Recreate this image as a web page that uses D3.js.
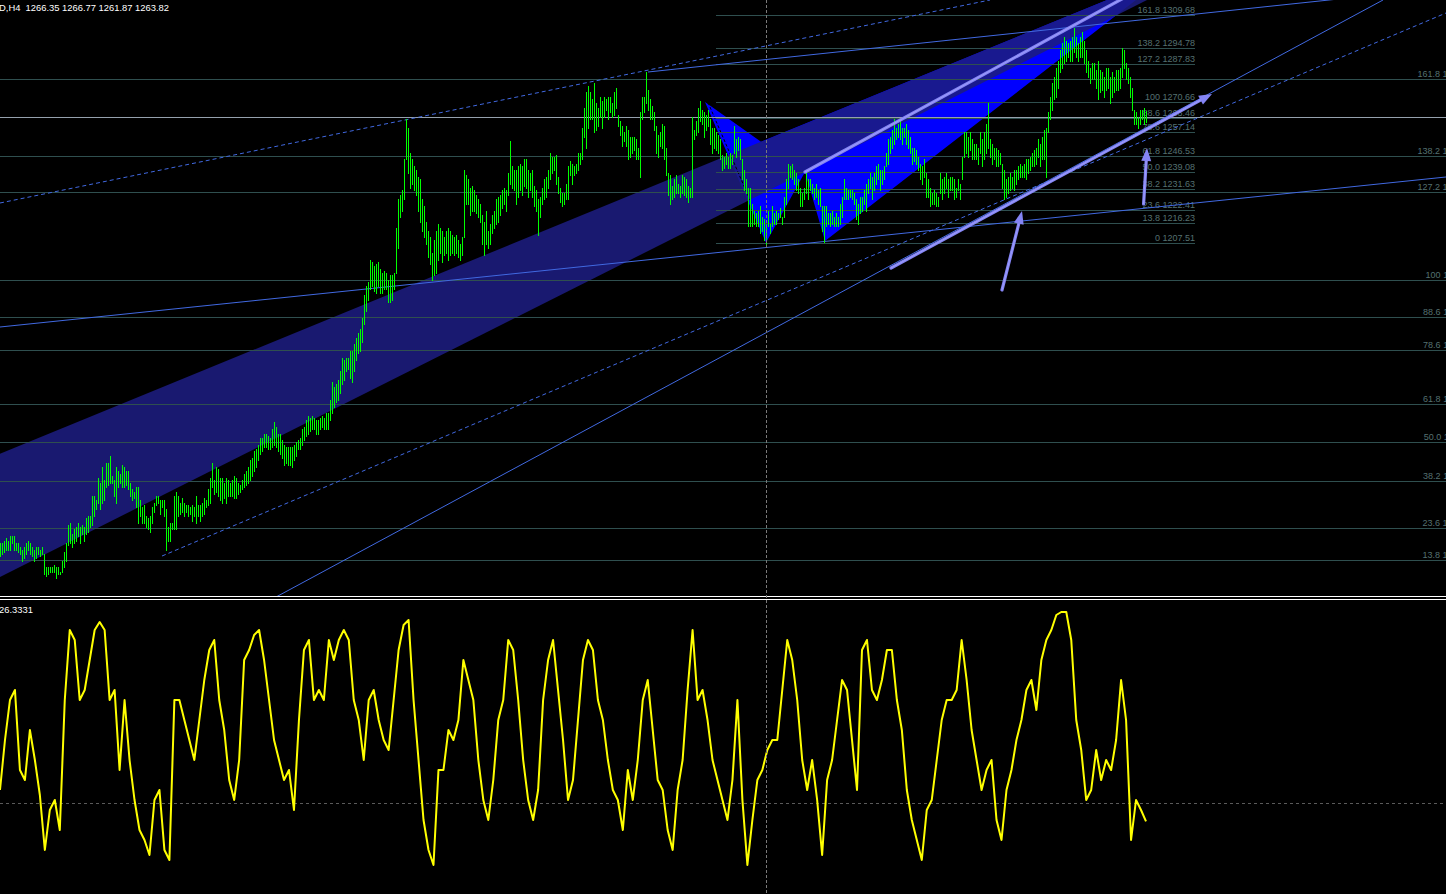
<!DOCTYPE html>
<html><head><meta charset="utf-8">
<script src="https://cdn.jsdelivr.net/npm/d3@7"></script>
<style>
html,body{margin:0;padding:0;background:#000;overflow:hidden}
svg{display:block}
text{font-family:"Liberation Sans",Arial,sans-serif;font-size:9px}
</style></head><body>
<svg id="c" width="1446" height="894"></svg>
<script>
// ---------------- DATA ----------------
const symbolLabel = "D,H4";
const lastBar = {open:"1266.35", high:"1266.77", low:"1261.87", close:"1263.82"};
const bidPrice = 1263.82;

const barHigh = [
1073,1073,1074,1075,1074,1076,1076,1076,1073,1073,
1071,1070,1071,1073,1074,1073,1071,1070,1071,1071,
1070,1071,1068,1062,1062,1062,1062,1063,1062,1062,
1060,1065,1069,1073,1081,1082,1077,1079,1080,1082,
1080,1081,1080,1084,1085,1085,1094,1094,1092,1102,
1100,1107,1101,1109,1109,1112,1103,1101,1107,1105,
1104,1108,1107,1105,1105,1100,1097,1096,1098,1098,
1092,1089,1090,1085,1084,1085,1089,1091,1094,1094,
1092,1092,1092,1088,1080,1082,1082,1094,1096,1094,
1091,1093,1091,1090,1090,1089,1090,1089,1094,1090,
1090,1091,1093,1092,1097,1102,1109,1101,1107,
1106,1102,1102,1100,1102,1101,1100,1101,1103,1102,
1100,1099,1101,1104,1105,1107,1110,1111,1114,1115,
1117,1120,1120,1122,1122,1121,1120,1124,1127,1125,
1122,1122,1119,1117,1116,1116,1116,1116,1117,1118,
1119,1120,1124,1125,1128,1130,1129,1130,1129,1128,
1128,1129,1130,1129,1131,1131,1137,1145,1143,1144,
1146,1150,1156,1155,1156,1156,1159,1159,1162,1165,
1167,1169,1174,1184,1188,1190,1200,1199,1197,1198,
1199,1196,1194,1195,1194,1191,1193,1193,1194,1214,
1227,1229,1231,1245,1263,1259,1248,1245,1242,1240,
1237,1236,1227,1224,1217,1213,1210,1203,1209,1213,
1216,1214,1213,1210,1213,1214,1213,1211,1210,1211,
1209,1207,1210,1240,1238,1236,1232,1233,1231,1229,
1227,1225,1220,1217,1222,1213,1216,1220,1222,1227,
1228,1229,1231,1232,1231,1239,1253,1242,1240,1240,
1242,1243,1242,1245,1245,1240,1239,1240,1233,1231,
1227,1228,1232,1236,1237,1240,
1248,1246,1246,1247,1237,1232,1230,1230,1234,1242,
1244,1243,1242,1243,1248,1248,1259,1268,1275,1278,
1275,1272,1279,1270,1268,1273,1271,1273,1272,1273,
1273,1270,1275,1277,1265,1262,1260,1257,1260,1258,
1255,1255,1255,1254,1250,1266,1273,1273,1284,1276,
1272,1269,1266,1260,1256,1257,1261,1260,1250,1239,
1238,1233,1236,1238,1234,1233,1238,1237,1236,1233,
1232,1264,1258,1262,1268,1271,1267,1266,1265,1267,
1263,1259,1259,1257,1256,1254,1247,1246,1248,1246,
1248,1247,1260,1254,1255,1254,1245,1240,1236,1232,
1232,1225,1222,1221,1222,1224,1219,1218,1216,1222,
1216,1224,1221,1222,1221,1223,1219,1228,1236,1243,
1242,1243,1240,1239,1236,1232,1230,1232,1239,1236,
1236,1234,1232,1234,1231,1232,1224,1224,1224,1221,
1221,1222,1219,1221,1219,1225,1228,1236,1232,1231,
1231,1231,1230,1227,1225,1228,1228,1231,1234,1236,
1239,1237,1239,1242,1243,1240,1240,1242,1248,1254,
1255,1258,1263,1259,1261,1263,1259,1259,1261,1258,
1255,1250,1250,1249,1246,1243,1242,1245,1239,1236,
1232,1230,1231,1230,1228,
1239,1236,1237,1239,1236,1237,1237,1236,1232,1236,
1234,1246,1257,1257,1255,1257,1254,1252,1252,1250,
1257,1254,1257,1261,1270,1254,1252,1250,1250,1249,
1248,1243,1240,1236,1237,1239,1237,1240,1240,1242,
1243,1242,1243,1245,1245,1246,1248,1249,1250,1254,
1252,1255,1258,1259,1266,1273,1279,1282,1286,1289,
1294,1297,1300,1298,1297,1298,1300,1304,1300,1297,
1300,1302,1298,1294,1289,1286,1288,1288,1285,1289,
1285,1284,1282,1286,1286,1282,1284,1282,1285,1285,
1286,1295,1294,1288,1286,1282,1277,1267,1266,1264,
1267,1267,1268,1266.77
];
const barLow = [
1067,1068,1069,1070,1070,1070,1073,1070,1070,1069,
1068,1065,1066,1068,1070,1068,1067,1065,1066,1068,
1067,1068,1059,1058,1059,1060,1060,1060,1057,1059,
1059,1060,1062,1065,1072,1073,1071,1073,1074,1076,
1073,1077,1074,1077,1078,1080,1081,1085,1088,1091,
1088,1091,1092,1098,1099,1100,1100,1094,1091,1098,
1100,1098,1098,1099,1097,1094,1092,1093,1089,1082,
1085,1082,1082,1080,1079,1078,1082,1087,1090,1091,
1086,1089,1085,1070,1074,1074,1079,1079,1079,1085,
1086,1087,1085,1087,1085,1086,1083,1085,1082,1085,
1083,1085,1086,1089,1090,1091,1098,1095,1096,
1094,1092,1091,1093,1091,1094,1094,1094,1093,1093,
1095,1096,1097,1098,1099,1100,1101,1103,1105,1107,
1110,1113,1114,1116,1116,1115,1115,1116,1117,1116,
1114,1113,1111,1108,1109,1108,1108,1107,1110,1112,
1115,1115,1117,1119,1121,1122,1123,1124,1124,1122,
1122,1124,1125,1124,1124,1124,1128,1131,1134,1136,
1137,1140,1144,1146,1150,1151,1147,1145,1150,1155,
1158,1159,1163,1171,1177,1182,1187,1188,1186,1185,
1188,1185,1185,1187,1187,1181,1181,1182,1187,1194,
1205,1219,1222,1227,1245,1239,1232,1234,1231,1229,
1222,1217,1213,1210,1207,1201,1198,1191,1193,1194,
1200,1203,1199,1202,1203,1200,1202,1203,1202,1203,
1201,1200,1202,1210,1225,1225,1220,1222,1222,1221,
1219,1217,1207,1202,1207,1205,1207,1212,1214,1216,
1217,1220,1223,1225,1222,1229,1234,1232,1231,1225,
1228,1231,1229,1233,1232,1228,1231,1228,1224,1222,
1211,1219,1225,1227,1228,1232,
1236,1239,1240,1234,1230,1226,1224,1225,1227,1227,
1238,1234,1238,1239,1240,1243,1245,1255,1250,1259,
1263,1263,1257,1258,1260,1264,1259,1264,1267,1263,
1266,1264,1265,1268,1260,1256,1251,1253,1251,1245,
1246,1248,1249,1245,1245,1237,1263,1266,1270,1267,
1263,1263,1258,1248,1246,1251,1250,1245,1238,1229,
1225,1227,1228,1230,1230,1228,1230,1229,1228,1226,
1228,1228,1254,1256,1257,1262,1261,1255,1258,1260,
1252,1248,1250,1249,1248,1245,1240,1241,1243,1241,
1241,1243,1248,1246,1249,1245,1236,1231,1230,1215,
1215,1215,1216,1215,1215,1212,1213,1209,1207,1215,
1212,1215,1216,1216,1218,1219,1216,1219,1225,1232,
1237,1236,1234,1231,1230,1224,1224,1227,1230,1227,
1231,1230,1227,1228,1225,1224,1213,1208,1215,1216,
1215,1216,1215,1215,1215,1216,1219,1227,1227,1227,
1228,1227,1225,1218,1216,1221,1222,1225,1222,1230,
1232,1227,1231,1234,1236,1231,1234,1236,1242,1243,
1248,1250,1252,1254,1255,1254,1252,1255,1252,1250,
1248,1243,1244,1243,1240,1236,1234,1237,1228,1228,
1224,1225,1225,1224,1224,
1230,1227,1230,1232,1228,1231,1231,1227,1228,1231,
1227,1236,1246,1248,1246,1249,1245,1245,1245,1243,
1248,1242,1245,1248,1250,1246,1243,1245,1242,1242,
1243,1232,1227,1228,1230,1231,1232,1231,1234,1236,
1237,1237,1237,1236,1239,1240,1242,1242,1243,1246,
1242,1245,1245,1237,1257,1263,1267,1272,1273,1277,
1284,1286,1288,1289,1291,1289,1289,1293,1291,1289,
1291,1291,1288,1284,1282,1279,1281,1281,1277,1272,
1275,1276,1273,1276,1277,1270,1273,1275,1276,1276,
1277,1282,1286,1281,1279,1273,1267,1261,1261,1259,
1261,1263,1261,1261.87
];

// indicator (sub window), sampled along the same time span
const oscValues = [
32.6,42.6,50.6,52.6,36.6,34.6,44.6,38.6,31.6,20.6,28.6,30.6,24.6,50.6,64.6,62.6,50.6,52.6,58.6,64.6,
66.2,64.6,50.6,52.6,36.6,50.6,38.6,30.6,24.6,22.6,19.6,30.6,32.6,20.6,18.6,50.6,50.6,46.6,42.6,38.6,
46.6,54.6,60.6,62.6,50.6,44.6,34.6,30.6,38.6,58.6,60.6,63.6,64.6,58.6,50.6,42.6,38.6,34.6,36.6,28.6,
46.6,60.6,62.6,50.6,52.6,50.6,62.6,58.6,62.6,64.6,62.6,50.6,46.6,38.6,50.6,52.6,46.6,42.6,40.6,50.6,
60.6,65.6,66.6,50.6,38.6,26.6,20.6,17.6,36.6,36.6,44.6,42.6,46.6,58.6,54.6,50.6,38.6,30.6,26.6,34.6,
46.6,50.6,62.6,60.6,50.6,38.6,30.6,26.6,32.6,50.6,58.6,62.6,52.6,42.6,30.6,34.6,46.6,58.6,62.6,60.6,
50.6,46.6,38.6,32.6,30.6,24.6,36.6,30.6,38.6,50.6,54.6,44.6,34.6,32.6,24.6,20.6,32.6,38.6,52.6,64.6,
50.6,52.6,46.6,38.6,34.6,30.6,26.6,34.6,50.6,30.6,17.6,26.6,34.6,36.6,40.6,42.6,42.6,52.6,62.6,58.6,
50.6,38.6,32.6,38.6,30.6,19.6,34.6,38.6,46.6,54.6,52.6,42.6,32.6,60.6,62.6,52.6,50.6,54.6,60.6,60.6,
50.6,44.6,32.6,26.6,22.6,18.6,28.6,30.6,38.6,46.6,50.6,50.6,52.6,62.6,54.6,44.6,38.6,32.6,36.6,38.6,
26.6,22.6,32.6,36.6,42.6,46.6,52.6,54.6,48.6,58.6,62.6,64.6,67.6,68.2,68.2,62.6,46.6,40.6,30.6,32.6,
40.6,34.6,38.6,36.6,42.6,54.6,46.6,22.6,30.6,28.6,26.3331
];
const oscLevel = 30;
const oscLabel = "26.3331";

// Fibonacci objects
const fibLevelLabels = ["0","13.8","23.6","38.2","50.0","61.8","78.6","88.6","100","127.2","138.2","161.8"];
const fib1Prices = [1207.51,1216.23,1222.41,1231.63,1239.08,1246.53,1257.14,1263.46,1270.66,1287.83,1294.78,1309.68];
const fib2Prices = [1045.18,1065.28,1079.56,1100.83,1118.02,1135.20,1159.68,1174.24,1190.85,1230.47,1246.50,1280.87];
const fib1Span = [358, 597.5];
const fib2Span = [-0.5, 737.5];

// drawing objects in (bar index, price)
const navyBand = [[-0.5,1112.73],[553.5,1316.41],[573.5,1316.41],[-0.5,1057.44]];
const blueWedge = [[352.5,1270.66],[383,1207.51],[402.5,1239.28],[412.5,1208.34],[568,1316.41],[553.5,1316.41],[380.5,1252.9]];
const thinLines = [
  {a:[0,1225.38], b:[495,1316.41], dash:true},
  {a:[0,1169.77], b:[723,1237.04], dash:false},
  {a:[324,1284.12], b:[723.5,1322.0], dash:false},
  {a:[81,1067.08], b:[723,1310.58], dash:true},
  {a:[138,1048.70], b:[691.5,1316.41], dash:false}
];
const thickLines = [
  {a:[402.5,1239.28], b:[564.5,1318.6], arrow:false},
  {a:[445.5,1196.23], b:[606,1274.26], arrow:true},
  {a:[501,1186.37], b:[511,1221.79], arrow:true},
  {a:[571.8,1224.93], b:[573.5,1250.04], arrow:true}
];
const wedgeDash = {a:[354,1270.48], b:[375,1226.72]};
const cursorIndex = 383;

// ---------------- DRAW ----------------
const W = 1446, H = 894;
const svg = d3.select("#c");
svg.append("rect").attr("width",W).attr("height",H).attr("fill","#000");
const defs = svg.append("defs");
defs.append("clipPath").attr("id","clipMain").append("rect").attr("x",0).attr("y",0).attr("width",W).attr("height",596);
defs.append("clipPath").attr("id","clipSub").append("rect").attr("x",0).attr("y",601).attr("width",W).attr("height",H-601);

const N = barHigh.length;
const x = d3.scaleLinear().domain([0, N-1]).range([0, 1146]);
const y = d3.scaleLinear().domain([1048.70, 1316.41]).range([597, 0]);
const yOsc = d3.scaleLinear().domain([0, 70]).range([953, 603]);
const xOsc = d3.scaleLinear().domain([0, oscValues.length-1]).range([0, 1146]);

const P = d => [x(d[0]), y(d[1])];
const crisp = v => Math.round(v) + 0.5;

const gMain = svg.append("g").attr("clip-path","url(#clipMain)");

const fills = gMain.append("g").style("isolation","isolate");
fills.append("path").attr("d", "M" + navyBand.map(P).join("L") + "Z").attr("fill","#191970");
fills.append("path").attr("d", "M" + blueWedge.map(P).join("L") + "Z").attr("fill","#0000ff").style("mix-blend-mode","difference");
gMain.append("line")
  .attr("x1",P(wedgeDash.a)[0]).attr("y1",P(wedgeDash.a)[1])
  .attr("x2",P(wedgeDash.b)[0]).attr("y2",P(wedgeDash.b)[1])
  .attr("stroke","#000").attr("stroke-dasharray","3,2");

const fibColor = "#2f4f4f", fibText = "#557070";
function drawFib(prices, lineSpan, labelIdx){
  const g = gMain.append("g");
  prices.forEach((p,k)=>{
    const yy = crisp(y(p));
    g.append("line").attr("x1",x(lineSpan[0])).attr("x2",x(lineSpan[1])).attr("y1",yy).attr("y2",yy)
      .attr("stroke",fibColor).attr("stroke-width",1).attr("shape-rendering","crispEdges");
    g.append("text").attr("x",x(labelIdx)).attr("y",yy-2.5).attr("text-anchor","end")
      .attr("fill",fibText).text(fibLevelLabels[k] + " " + p.toFixed(2));
  });
}
drawFib(fib2Prices, [-0.5, 724.5], fib2Span[1]);
drawFib(fib1Prices, fib1Span, fib1Span[1]);

gMain.append("line").attr("x1",0).attr("x2",W).attr("y1",crisp(y(bidPrice))).attr("y2",crisp(y(bidPrice)))
  .attr("stroke","#95a1ad").attr("shape-rendering","crispEdges");

thinLines.forEach(l=>{
  const a=P(l.a), b=P(l.b);
  gMain.append("line").attr("x1",a[0]).attr("y1",a[1]).attr("x2",b[0]).attr("y2",b[1])
    .attr("stroke","#4169e1").attr("stroke-width",1)
    .attr("stroke-dasharray", l.dash ? "4,3" : null);
});

// price bars (high-low sticks)
gMain.append("g").selectAll("line").data(d3.range(N)).join("line")
  .attr("x1", i => Math.round(x(i)) + 0.5)
  .attr("x2", i => Math.round(x(i)) + 0.5)
  .attr("y1", i => Math.round(y(barHigh[i])))
  .attr("y2", i => Math.max(Math.round(y(barHigh[i])) + 1, Math.round(y(barLow[i])) + 1))
  .attr("stroke", "#00ff00")
  .attr("stroke-width", 1)
  .attr("shape-rendering","crispEdges");

const lav = "#8484f4";
thickLines.forEach(l=>{
  const a=P(l.a), b=P(l.b);
  const dx=b[0]-a[0], dy=b[1]-a[1], len=Math.hypot(dx,dy), ux=dx/len, uy=dy/len;
  const headL = 13, headW = 5;
  const end = l.arrow ? [b[0]-ux*headL*0.8, b[1]-uy*headL*0.8] : b;
  gMain.append("line").attr("x1",a[0]).attr("y1",a[1]).attr("x2",end[0]).attr("y2",end[1])
    .attr("stroke",lav).attr("stroke-width",3.2).attr("stroke-linecap","round");
  gMain.append("line").attr("x1",a[0]).attr("y1",a[1]).attr("x2",end[0]).attr("y2",end[1])
    .attr("stroke","#b0b0ff").attr("stroke-width",0.8).attr("opacity",0.7);
  if (l.arrow){
    const bx=b[0]-ux*headL, by=b[1]-uy*headL;
    const pts=[[b[0],b[1]],[bx-uy*headW,by+ux*headW],[bx+uy*headW,by-ux*headW]];
    gMain.append("path").attr("d","M"+pts.join("L")+"Z").attr("fill",lav);
  }
});

svg.append("rect").attr("x",0).attr("y",596).attr("width",W).attr("height",1).attr("fill","#fff");
svg.append("rect").attr("x",0).attr("y",599).attr("width",W).attr("height",1).attr("fill","#fff");

const gSub = svg.append("g").attr("clip-path","url(#clipSub)");
gSub.append("line").attr("x1",0).attr("x2",W).attr("y1",crisp(yOsc(oscLevel))).attr("y2",crisp(yOsc(oscLevel)))
  .attr("stroke","#5a5a5a").attr("stroke-dasharray","3,3").attr("shape-rendering","crispEdges");
gSub.append("path").datum(oscValues)
  .attr("d", d3.line().x((d,i)=>xOsc(i)).y(d=>yOsc(d)))
  .attr("fill","none").attr("stroke","#ffff00").attr("stroke-width",2).attr("stroke-linejoin","round");

svg.append("line").attr("x1",crisp(x(cursorIndex))).attr("x2",crisp(x(cursorIndex))).attr("y1",0).attr("y2",H)
  .attr("stroke","#7a7a7a").attr("stroke-dasharray","3,2").attr("shape-rendering","crispEdges");

svg.append("text").attr("x",-1).attr("y",11).attr("fill","#fff").style("white-space","pre").style("font-size","9.4px")
  .text(`${symbolLabel}  ${lastBar.open} ${lastBar.high} ${lastBar.low} ${lastBar.close}`);
svg.append("text").attr("x",-1).attr("y",613).attr("fill","#fff").style("font-size","9.4px").text(oscLabel);
</script>
</body></html>
